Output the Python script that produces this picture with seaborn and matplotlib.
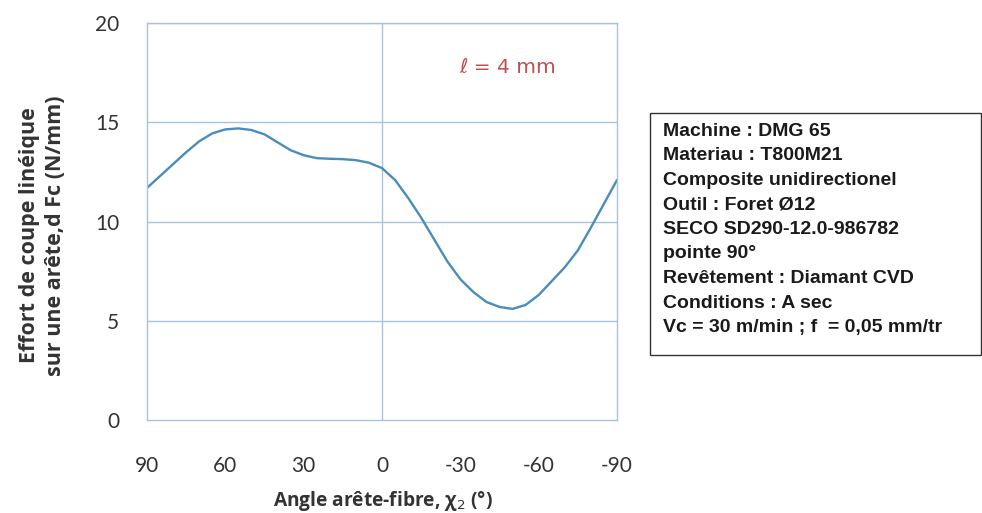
import matplotlib
matplotlib.use("Agg")
import matplotlib.pyplot as plt
import seaborn as sns
import pandas as pd
from matplotlib.patches import Rectangle

angles = [90, 85, 80, 75, 70, 65, 60, 55, 50, 45, 40, 35, 30, 25, 20, 15, 10, 5, 0,
          -5, -10, -15, -20, -25, -30, -35, -40, -45, -50, -55, -60, -65, -70, -75, -80, -85, -90]
force = [11.7, 12.3, 12.9, 13.5, 14.05, 14.45, 14.65, 14.7, 14.62, 14.4, 14.0, 13.6, 13.35,
         13.2, 13.17, 13.15, 13.1, 12.97, 12.7,
         12.1, 11.2, 10.2, 9.1, 8.0, 7.1, 6.45, 5.95, 5.7, 5.6, 5.8, 6.3, 7.0, 7.7, 8.55, 9.7, 10.9, 12.1]
x_ticks = [90, 60, 30, 0, -30, -60, -90]
y_ticks = [0, 5, 10, 15, 20]
info_lines = ["Machine : DMG 65", "Materiau : T800M21", "Composite unidirectionel",
              "Outil : Foret Ø12", "SECO SD290-12.0-986782", "pointe 90°",
              "Revêtement : Diamant CVD", "Conditions : A sec",
              "Vc = 30 m/min ; f  = 0,05 mm/tr"]

sns.set_theme(style="white")
plt.rcParams['font.family'] = ['Lato', 'DejaVu Sans']

df = pd.DataFrame({"angle": angles, "force": force})

fig = plt.figure(figsize=(9.82, 5.13), dpi=100)
ax = fig.add_axes([0.1497, 0.1813, 0.4786, 0.7733])

grid_c = "#a8c4dc"
sns.lineplot(data=df, x="angle", y="force", ax=ax, color="#4a8cbc", linewidth=1.7, sort=False)

ax.set_xlim(90, -90)
ax.set_ylim(0, 20)
ax.set_xticks(x_ticks)
ax.set_xticklabels([str(v) for v in x_ticks])
ax.set_yticks(y_ticks)
ax.set_yticklabels([str(v) for v in y_ticks])
for y in [5, 10, 15, 20]:
    ax.axhline(y, color=grid_c, lw=1.0, zorder=0)
ax.axvline(0, color=grid_c, lw=1.0, zorder=0)
for s in ax.spines.values():
    s.set_color(grid_c)
    s.set_linewidth(1.0)
ax.tick_params(axis='x', direction='out', length=7, width=1, color=grid_c,
               labelsize=15, labelcolor="#333333", pad=19)
ax.tick_params(axis='y', length=0, labelsize=15, labelcolor="#333333", pad=20)

ax.set_xlabel("Angle arête-fibre, χ$_2$ (°)", fontsize=13.8, fontweight='bold',
              color="#333333", family=['Open Sans', 'DejaVu Sans'])
ax.xaxis.set_label_coords(0.502, -0.175)
ax.set_ylabel("Effort de coupe linéique\nsur une arête,d Fc (N/mm)", fontsize=15.5,
              fontweight='bold', color="#333333", linespacing=1.3,
              family=['Open Sans', 'DejaVu Sans'])
ax.yaxis.set_label_coords(-0.172, 0.465)

ax.text(-48, 17.75, "ℓ = 4 mm", fontsize=14.5, color="#c0504d", ha='center', va='center',
        family=['DejaVu Sans'])

# info box
box_left, box_top, box_bottom = 650 / 982, 1 - 113 / 513, 1 - 355 / 513
rect = Rectangle((box_left, box_bottom), 0.999 - box_left, box_top - box_bottom,
                 transform=fig.transFigure, fill=False, edgecolor="#333333", lw=1.0)
fig.add_artist(rect)
y0 = 131.5
for i, line in enumerate(info_lines):
    fig.text(663 / 982, 1 - (y0 + i * 24.5) / 513, line, fontsize=14, fontweight='bold',
             family=['Liberation Sans', 'DejaVu Sans'], color="#1a1a1a", ha='left', va='center')

fig.savefig("out.png", dpi=100)
